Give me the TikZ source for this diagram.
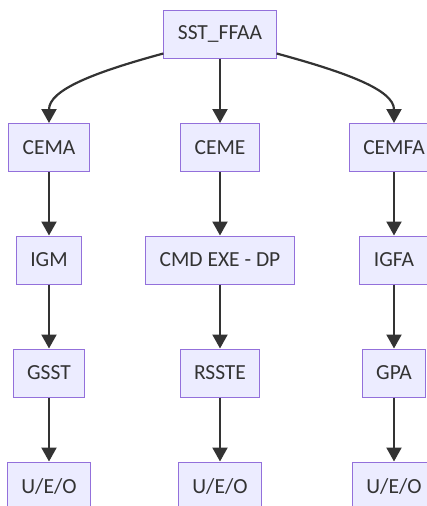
\documentclass[tikz,border=0pt]{standalone}
\usepackage{fontspec}
\setmainfont{Carlito}
\usetikzlibrary{arrows.meta}
\definecolor{boxfill}{HTML}{ECECFF}
\definecolor{boxline}{HTML}{9370DB}
\definecolor{ink}{HTML}{333333}
\begin{document}
\begin{tikzpicture}[x=1pt,y=-1pt,
  box/.style={draw=boxline,fill=boxfill,line width=1pt,text=ink,
    inner xsep=14pt,inner ysep=0pt,minimum height=48pt,
    font=\fontsize{21.5}{24}\selectfont},
  link/.style={draw=ink,line width=2.2pt,-{Triangle[length=14pt,width=15pt]}}]
\useasboundingbox (0,0) rectangle (427,506);
\clip (0,0) rectangle (427,506);
\node[box] (sst) at (220,34) {SST\_FFAA};
\node[box] (cema) at (49,147.5) {CEMA};
\node[box] (ceme) at (220,147.5) {CEME};
\node[box] (cemfa) at (394,147.5) {CEMFA};
\node[box] (igm) at (49,260) {IGM};
\node[box] (cmd) at (220,260) {CMD EXE - DP};
\node[box] (igfa) at (394,260) {IGFA};
\node[box] (gsst) at (49,373) {GSST};
\node[box] (rsste) at (220,373) {RSSTE};
\node[box] (gpa) at (394,373) {GPA};
\node[box] (u1) at (49,486) {U/E/O};
\node[box] (u2) at (220,486) {U/E/O};
\node[box] (u3) at (394,486) {U/E/O};
\draw[link] (sst.199) .. controls +(-70,19) and +(0,-33) .. (cema.north);
\draw[link] (sst.341) .. controls +(70,19) and +(0,-33) .. (cemfa.north);
\draw[link] (sst) -- (ceme);
\draw[link] (cema) -- (igm);
\draw[link] (ceme) -- (cmd);
\draw[link] (cemfa) -- (igfa);
\draw[link] (igm) -- (gsst);
\draw[link] (cmd) -- (rsste);
\draw[link] (igfa) -- (gpa);
\draw[link] (gsst) -- (u1);
\draw[link] (rsste) -- (u2);
\draw[link] (gpa) -- (u3);
\end{tikzpicture}
\end{document}
